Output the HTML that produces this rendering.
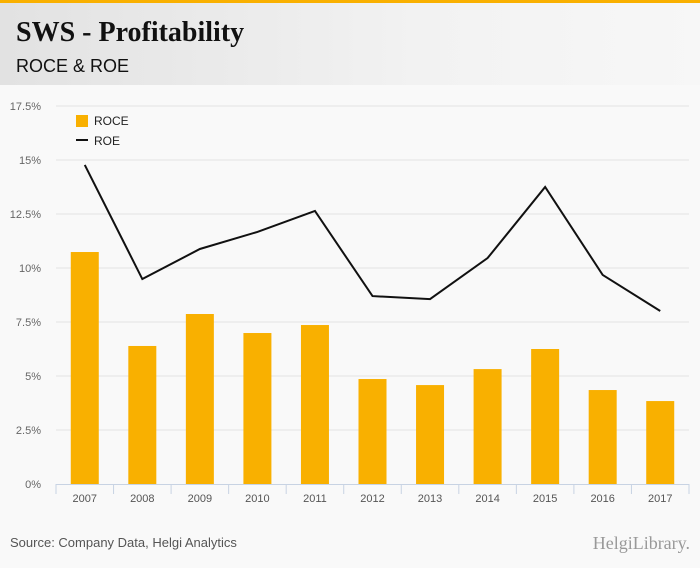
<!DOCTYPE html>
<html><head><meta charset="utf-8"><style>
body{margin:0;width:700px;height:568px;background:#f9f9f9;font-family:"Liberation Sans",sans-serif;overflow:hidden;position:relative}
#hdr{position:absolute;left:0;top:0;width:700px;height:85px;background:linear-gradient(90deg,#e2e2e2,#f2f2f2 60%,#f7f7f7);border-top:3px solid #f9b000;box-sizing:border-box}
#title{position:absolute;left:16px;top:14px;font-family:"Liberation Serif",serif;font-weight:bold;font-size:28px;color:#111}
#sub{position:absolute;left:16px;top:53px;font-size:18px;color:#111}
#src{position:absolute;left:10px;top:535px;font-size:13px;color:#555}
#logo{position:absolute;right:10px;top:533px;font-family:"Liberation Serif",serif;font-size:18px;color:#999}
svg{position:absolute;left:0;top:0}
</style></head><body>
<div id="hdr">
<div id="title">SWS - Profitability</div>
<div id="sub">ROCE &amp; ROE</div>
</div>
<svg id="chart" width="700" height="568"></svg>
<div id="src">Source: Company Data, Helgi Analytics</div>
<div id="logo">HelgiLibrary.</div>
<script>
const categories=["2007","2008","2009","2010","2011","2012","2013","2014","2015","2016","2017"];
const roce=[10.74,6.39,7.87,6.99,7.36,4.86,4.58,5.32,6.25,4.35,3.84];
const roe=[14.77,9.49,10.88,11.67,12.64,8.70,8.56,10.46,13.75,9.68,8.01];
const yTicks=[0,2.5,5,7.5,10,12.5,15,17.5];
const yTickLabels=["0%","2.5%","5%","7.5%","10%","12.5%","15%","17.5%"];
const NS="http://www.w3.org/2000/svg";
const svg=document.getElementById('chart');
const x0=56,x1=689,y0=484,yTop=106,ymax=17.5;
const bw=(x1-x0)/categories.length;
const y=v=>y0-(v/ymax)*(y0-yTop);
const xc=i=>x0+bw*(i+0.5);
function mk(t,a){const e=document.createElementNS(NS,t);for(const k in a)e.setAttribute(k,a[k]);svg.appendChild(e);return e;}
yTicks.forEach((t,i)=>{
 if(t>0){const g=mk('line',{x1:x0,x2:x1,y1:y(t),y2:y(t),stroke:'#e3e3e3','stroke-width':1});
 
 }
 const l=mk('text',{x:41,y:y(t)+4,'text-anchor':'end','font-size':11,fill:'#666','font-family':'Liberation Sans, sans-serif'});
 l.textContent=yTickLabels[i];
 
 
});
roce.forEach((v,i)=>{
 const r=mk('rect',{x:xc(i)-14,y:y(v),width:28,height:y0-y(v),fill:'#f9b000'});
 
 
});
const ax=mk('line',{x1:x0,x2:x1,y1:y0+0.5,y2:y0+0.5,stroke:'#c8d3e3'});


for(let i=0;i<=categories.length;i++){
 const tk=mk('line',{x1:x0+bw*i,x2:x0+bw*i,y1:y0,y2:y0+10,stroke:'#c8d3e3'});
 
 
}
categories.forEach((c,i)=>{
 const t=mk('text',{x:xc(i),y:502,'text-anchor':'middle','font-size':11,fill:'#555','font-family':'Liberation Sans, sans-serif'});
 t.textContent=c;
 
 
});
const p=mk('polyline',{points:roe.map((v,i)=>xc(i)+','+y(v)).join(' '),fill:'none',stroke:'#111','stroke-width':2});


const lr=mk('rect',{x:76,y:115,width:12,height:12,fill:'#f9b000'});


const lt=mk('text',{x:94,y:125,'font-size':12,fill:'#222','font-family':'Liberation Sans, sans-serif'});
lt.textContent='ROCE';


const ll=mk('line',{x1:76,x2:88,y1:140,y2:140,stroke:'#111','stroke-width':2});


const lt2=mk('text',{x:94,y:145,'font-size':12,fill:'#222','font-family':'Liberation Sans, sans-serif'});
lt2.textContent='ROE';


</script>
</body></html>
